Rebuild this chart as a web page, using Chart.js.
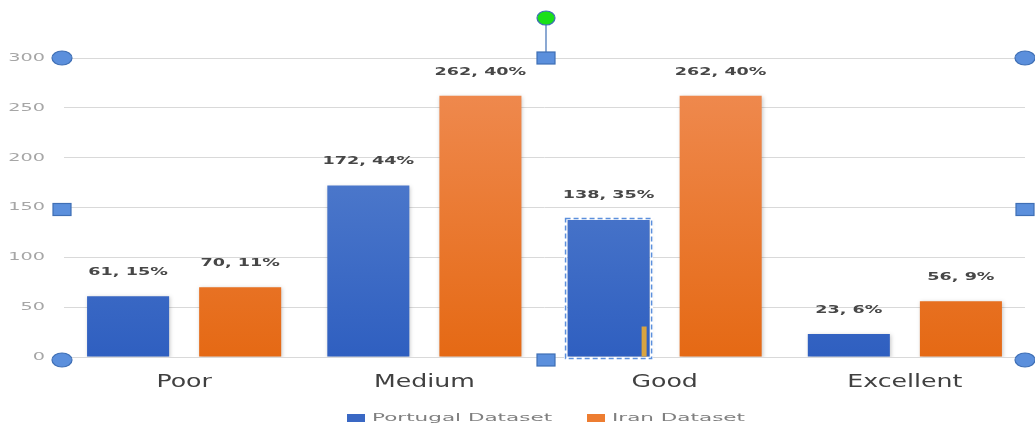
<!DOCTYPE html>
<html>
<head>
<meta charset="utf-8">
<script src="https://cdn.jsdelivr.net/npm/chart.js@4/dist/chart.umd.min.js"></script>
<style>
  html, body { margin: 0; padding: 0; background: #fff; }
  #wrap { position: relative; width: 1035px; height: 426px; }
</style>
</head>
<body>
<div id="wrap"><canvas id="qualityChart" width="1035" height="426"></canvas></div>
<script>
const categories = ["Poor", "Medium", "Good", "Excellent"];
const seriesNames = ["Portugal Dataset", "Iran Dataset"];
const portugalValues = [61, 172, 138, 23];
const iranValues = [70, 262, 262, 56];
const portugalPct = ["15%", "44%", "35%", "6%"];
const iranPct = ["11%", "40%", "40%", "9%"];
const yTicks = [0, 50, 100, 150, 200, 250, 300];

const FONT = "'DejaVu Sans', sans-serif";

// the source picture is stretched sideways, so text is drawn with a x-scale
function wideText(ctx, text, x, y, sx, align) {
  ctx.save();
  ctx.translate(x, y);
  ctx.scale(sx, 1);
  ctx.textAlign = align;
  ctx.textBaseline = "middle";
  ctx.fillText(text, 0, 0);
  ctx.restore();
}

// vertical gradient, lighter at the top
function barGradient(ctx, top, bottom) {
  const chart = ctx.chart;
  const area = chart.chartArea;
  if (!area) return bottom;
  const g = chart.ctx.createLinearGradient(0, area.top, 0, area.bottom);
  g.addColorStop(0, top);
  g.addColorStop(1, bottom);
  return g;
}

// soft shadow under the bars
const barShadow = {
  id: "barShadow",
  beforeDatasetsDraw(chart) {
    const ctx = chart.ctx;
    ctx.save();
    ctx.shadowColor = "rgba(0, 0, 0, 0.22)";
    ctx.shadowBlur = 4;
    ctx.shadowOffsetX = 1;
    ctx.shadowOffsetY = 1;
  },
  afterDatasetsDraw(chart) {
    chart.ctx.restore();
  }
};

// axis labels, "value, pct" labels and legend
const textLayer = {
  id: "textLayer",
  afterDatasetsDraw(chart) {
    const { ctx, scales } = chart;
    const pcts = [portugalPct, iranPct];
    ctx.save();

    ctx.font = "11px " + FONT;
    ctx.fillStyle = "#a6a6a6";
    yTicks.forEach((v) => {
      wideText(ctx, String(v), 45, scales.y.getPixelForValue(v), 1.75, "right");
    });

    ctx.font = "18px " + FONT;
    ctx.fillStyle = "#404040";
    categories.forEach((c, i) => {
      wideText(ctx, c, scales.x.getPixelForValue(i), 382, 1.4, "center");
    });

    ctx.font = "bold 11px " + FONT;
    ctx.fillStyle = "#474747";
    chart.data.datasets.forEach((ds, i) => {
      chart.getDatasetMeta(i).data.forEach((bar, j) => {
        wideText(ctx, ds.data[j] + ", " + pcts[i][j], bar.x, bar.y - 24, 1.6, "center");
      });
    });

    // legend
    const legendCols = ["#3a68c4", "#ed7d31"];
    const legendX = [347, 587];
    ctx.font = "10px " + FONT;
    seriesNames.forEach((name, i) => {
      ctx.fillStyle = legendCols[i];
      ctx.fillRect(legendX[i], 414, 18, 8);
      ctx.fillStyle = "#7f7f7f";
      wideText(ctx, name, legendX[i] + 25, 418, 2.15, "left");
    });
    ctx.restore();
  }
};

// selection handles from the editor screenshot
const handles = {
  id: "handles",
  afterDraw(chart) {
    const { ctx, chartArea: a } = chart;
    const midX = 546;
    const midY = (a.top + a.bottom) / 2 + 2;
    ctx.save();
    const sel = chart.getDatasetMeta(0).data[2];
    const bx = sel.x - sel.width / 2 - 2, by = sel.y - 1;
    const bw = sel.width + 4, bh = sel.base - sel.y + 3;
    ctx.strokeStyle = "#ffffff";
    ctx.lineWidth = 3;
    ctx.strokeRect(bx, by, bw, bh);
    ctx.strokeStyle = "#5b8fdc";
    ctx.lineWidth = 1.5;
    ctx.setLineDash([5, 3]);
    ctx.strokeRect(bx, by, bw, bh);
    ctx.setLineDash([]);
    ctx.fillStyle = "#d9a441";
    ctx.fillRect(sel.x + sel.width / 2 - 8, sel.base - 30, 5, 30);

    ctx.strokeStyle = "#3f6fb5";
    ctx.lineWidth = 1.2;
    ctx.beginPath();
    ctx.moveTo(midX, a.top);
    ctx.lineTo(midX, 18);
    ctx.stroke();
    const circle = (x, y, fill) => {
      ctx.beginPath();
      ctx.ellipse(x, y, 10, 7, 0, 0, Math.PI * 2);
      ctx.fillStyle = fill;
      ctx.fill();
      ctx.stroke();
    };
    const square = (x, y) => {
      ctx.fillStyle = "#5b8fdc";
      ctx.fillRect(x - 9, y - 6, 18, 12);
      ctx.strokeRect(x - 9, y - 6, 18, 12);
    };
    circle(62, a.top, "#5b8fdc");
    circle(62, a.bottom + 3, "#5b8fdc");
    circle(a.right, a.top, "#5b8fdc");
    circle(a.right, a.bottom + 3, "#5b8fdc");
    square(62, midY);
    square(a.right, midY);
    square(midX, a.top);
    square(midX, a.bottom + 3);
    ctx.beginPath();
    ctx.ellipse(midX, 18, 9, 7, 0, 0, Math.PI * 2);
    ctx.fillStyle = "#19e019";
    ctx.fill();
    ctx.stroke();
    ctx.restore();
  }
};

new Chart(document.getElementById("qualityChart"), {
  type: "bar",
  data: {
    labels: categories,
    datasets: [
      {
        label: seriesNames[0],
        data: portugalValues,
        backgroundColor: (ctx) => barGradient(ctx, "#5f88d2", "#2f5fc0"),
        borderWidth: 0,
        categoryPercentage: 0.933,
        barPercentage: 0.732,
      },
      {
        label: seriesNames[1],
        data: iranValues,
        backgroundColor: (ctx) => barGradient(ctx, "#f08d55", "#e56914"),
        borderWidth: 0,
        categoryPercentage: 0.933,
        barPercentage: 0.732,
      },
    ],
  },
  options: {
    responsive: false,
    animation: false,
    layout: { padding: { top: 58, left: 0, right: 10, bottom: 0 } },
    scales: {
      x: {
        grid: { display: false },
        border: { display: false },
        ticks: { display: false },
        afterFit(axis) { axis.height = 69; },
      },
      y: {
        min: 0,
        max: 300,
        afterBuildTicks(axis) {
          axis.ticks = yTicks.map((v) => ({ value: v }));
        },
        grid: { color: "#d9d9d9", drawTicks: false },
        border: { display: false },
        ticks: { display: false },
        afterFit(axis) { axis.width = 64; },
      },
    },
    plugins: {
      legend: { display: false },
      tooltip: { enabled: false },
    },
  },
  plugins: [barShadow, textLayer, handles],
});
</script>
</body>
</html>
